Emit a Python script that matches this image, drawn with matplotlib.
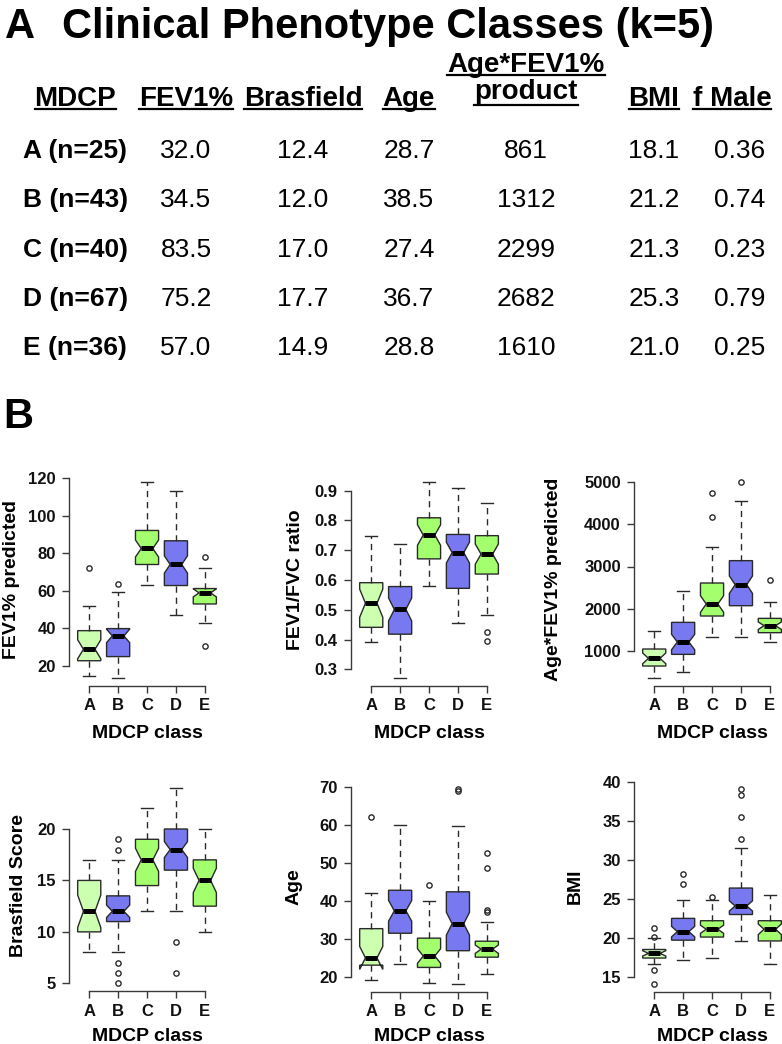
import numpy as np
import matplotlib
matplotlib.use("Agg")
import matplotlib.pyplot as plt
from matplotlib.lines import Line2D

plt.rcParams['font.family'] = ['Liberation Sans', 'DejaVu Sans']

W, H = 782, 1044

# ---------------- data: panel A table ----------------
classes = ["A", "B", "C", "D", "E"]
n_class = [25, 43, 40, 67, 36]
row_labels = ["A (n=25)", "B (n=43)", "C (n=40)", "D (n=67)", "E (n=36)"]
col_fev1 = [32.0, 34.5, 83.5, 75.2, 57.0]
col_brasfield = [12.4, 12.0, 17.0, 17.7, 14.9]
col_age = [28.7, 38.5, 27.4, 36.7, 28.8]
col_age_fev1 = [861, 1312, 2299, 2682, 1610]
col_bmi = [18.1, 21.2, 21.3, 25.3, 21.0]
col_fmale = [0.36, 0.74, 0.23, 0.79, 0.25]

# ---------------- data: panel B boxplots ----------------
fev1_whislo = [14.7, 13.6, 63.0, 47.2, 42.9]
fev1_q1 = [22.8, 25.0, 74.0, 62.8, 53.0]
fev1_med = [28.9, 36.0, 82.5, 74.0, 58.9]
fev1_q3 = [38.8, 39.9, 92.1, 86.6, 61.2]
fev1_whishi = [52.0, 59.6, 118.0, 113.0, 72.0]
fev1_fliers = [[72.0], [63.7], [], [], [77.9, 30.8]]

ratio_whislo = [0.393, 0.271, 0.581, 0.454, 0.482]
ratio_q1 = [0.441, 0.418, 0.671, 0.572, 0.620]
ratio_med = [0.522, 0.501, 0.751, 0.692, 0.687]
ratio_q3 = [0.591, 0.578, 0.809, 0.753, 0.749]
ratio_whishi = [0.748, 0.720, 0.929, 0.908, 0.860]
ratio_fliers = [[], [], [], [], [0.424, 0.395]]

prod_whislo = [358, 485, 1317, 1317, 1198]
prod_q1 = [636, 913, 1824, 2069, 1428]
prod_med = [818, 1206, 2109, 2568, 1594]
prod_q3 = [1040, 1673, 2608, 3139, 1768]
prod_whishi = [1475, 2426, 3456, 4564, 2149]
prod_fliers = [[], [], [4755, 4168], [5016], [2679]]

bras_whislo = [8, 8, 12, 12, 10]
bras_q1 = [10, 11, 14.5, 16, 12.5]
bras_med = [12, 12, 17, 18, 15]
bras_q3 = [15, 13.5, 19, 20, 17]
bras_whishi = [17, 17, 22, 24, 20]
bras_fliers = [[], [19, 18, 7, 6, 5], [], [9, 6], []]

age_whislo = [19.3, 23.5, 18.6, 18.2, 20.8]
age_q1 = [23.2, 31.6, 22.6, 27.0, 25.3]
age_med = [25.1, 37.5, 25.6, 34.1, 27.4]
age_q3 = [32.8, 42.9, 30.3, 42.5, 29.5]
age_whishi = [42.1, 60.0, 40.2, 59.7, 34.5]
age_fliers = [[62.2], [], [44.4], [69.6, 68.9], [52.6, 48.7, 37.6, 37.3]]

bmi_whislo = [16.6, 17.1, 17.4, 19.6, 16.6]
bmi_q1 = [17.4, 19.7, 20.1, 23.0, 19.6]
bmi_med = [18.0, 20.8, 21.1, 24.1, 21.1]
bmi_q3 = [18.5, 22.5, 22.2, 26.4, 22.2]
bmi_whishi = [20.0, 24.9, 24.9, 31.5, 25.5]
bmi_fliers = [[21.3, 20.1, 15.9, 14.1], [28.2, 26.9], [25.3], [39.2, 38.4, 35.5, 32.7], []]

box_colors = ["#ccffb0", "#7878f0", "#a3ff6e", "#7878f0", "#a3ff6e"]


def fx(px):
    return px / W


def fy(py):
    return 1 - py / H


fig = plt.figure(figsize=(W / 100, H / 100), dpi=100)

# ---------------- panel A ----------------
fig.text(fx(5), fy(38), "A", fontsize=30, fontweight="bold", va="baseline")
fig.text(fx(62), fy(38), "Clinical Phenotype Classes (k=5)", fontsize=30,
         fontweight="bold", va="baseline")

# header text, x centre, baseline, underline offset
headers = [("MDCP", 75.5, 106, 3), ("FEV1%", 186, 106, 3), ("Brasfield", 303, 106, 3),
           ("Age", 409, 106, 3), ("Age*FEV1%", 526, 72, 3), ("product", 526, 99, 6),
           ("BMI", 654, 106, 3), ("f Male", 732, 106, 3)]
header_texts = []
for lab, x, y, off in headers:
    t = fig.text(fx(x), fy(y), lab, fontsize=20, fontweight="bold",
                 ha="center", va="baseline")
    header_texts.append((t, y + off))

col_x = [186, 303, 409, 526, 654, 740]
for i in range(len(classes)):
    yb = 158 + 49.3 * i
    fig.text(fx(23), fy(yb), row_labels[i], fontsize=19, fontweight="bold", va="baseline")
    vals = [f"{col_fev1[i]:.1f}", f"{col_brasfield[i]:.1f}", f"{col_age[i]:.1f}",
            f"{col_age_fev1[i]:d}", f"{col_bmi[i]:.1f}", f"{col_fmale[i]:.2f}"]
    for x, v in zip(col_x, vals):
        fig.text(fx(x), fy(yb), v, fontsize=19, ha="center", va="baseline")

fig.text(fx(3), fy(428), "B", fontsize=30, fontweight="bold", va="baseline")

# ---------------- panel B ----------------
panels = [
    (fev1_whislo, fev1_q1, fev1_med, fev1_q3, fev1_whishi, fev1_fliers,
     "FEV1% predicted", 0, 0, [20, 40, 60, 80, 100, 120], (666, 478), 12, "{:.0f}"),
    (ratio_whislo, ratio_q1, ratio_med, ratio_q3, ratio_whishi, ratio_fliers,
     "FEV1/FVC ratio", 1, 0, [0.3, 0.4, 0.5, 0.6, 0.7, 0.8, 0.9], (669.3, 490.7), 295, "{:.1f}"),
    (prod_whislo, prod_q1, prod_med, prod_q3, prod_whishi, prod_fliers,
     "Age*FEV1% predicted", 2, 0, [1000, 2000, 3000, 4000, 5000], (650.7, 482.3), 554, "{:.0f}"),
    (bras_whislo, bras_q1, bras_med, bras_q3, bras_whishi, bras_fliers,
     "Brasfield Score", 0, 1, [5, 10, 15, 20], (983.3, 829), 19, "{:.0f}"),
    (age_whislo, age_q1, age_med, age_q3, age_whishi, age_fliers,
     "Age", 1, 1, [20, 30, 40, 50, 60, 70], (977.3, 787.3), 294, "{:.0f}"),
    (bmi_whislo, bmi_q1, bmi_med, bmi_q3, bmi_whishi, bmi_fliers,
     "BMI", 2, 1, [15, 20, 25, 30, 35, 40], (976.7, 782.3), 575, "{:.0f}"),
]

col_left = [69, 351, 634]
unit = 28.9
xlab_base = [738, 1041]
axis_col = "#3a3a3a"

for (wlo, q1, med, q3, whi, fl, ylab, c, r, ticks, tpx, ylab_x, fmt) in panels:
    stats = []
    for k in range(5):
        iqr = q3[k] - q1[k]
        half = 1.58 * iqr / np.sqrt(n_class[k])
        stats.append(dict(whislo=wlo[k], q1=q1[k], med=med[k], q3=q3[k], whishi=whi[k],
                          fliers=fl[k], cilo=med[k] - half, cihi=med[k] + half))
    allv = wlo + whi + [v for f in fl for v in f]
    lo, hi = min(allv), max(allv)
    ext = 0.04 * (hi - lo)
    ylo, yhi = lo - ext, hi + ext
    s = (tpx[0] - tpx[1]) / (ticks[-1] - ticks[0])
    bottom_px = tpx[0] + (ticks[0] - ylo) * s
    top_px = tpx[1] - (yhi - ticks[-1]) * s
    left_px = col_left[c]
    width_px = 5.4 * unit
    ax = fig.add_axes([fx(left_px), fy(bottom_px), width_px / W, (bottom_px - top_px) / H])
    bp = ax.bxp(stats, positions=range(1, 6), widths=0.8, shownotches=True,
                patch_artist=True,
                boxprops=dict(edgecolor="#2a2a2a", linewidth=1.0),
                whiskerprops=dict(color="#2a2a2a", linewidth=1.0, linestyle=(0, (4.5, 3.5))),
                capprops=dict(color="#2a2a2a", linewidth=1.0),
                medianprops=dict(color="black", linewidth=3.6, solid_capstyle="butt"),
                flierprops=dict(marker="o", markerfacecolor="none", markeredgecolor="#2a2a2a",
                                markersize=3.8, markeredgewidth=1.0, linestyle="none"))
    for patch, col in zip(bp["boxes"], box_colors):
        patch.set_facecolor(col)
    ax.set_xlim(0.3, 5.7)
    ax.set_ylim(ylo, yhi)
    ax.set_facecolor("none")
    for sp in ["top", "right"]:
        ax.spines[sp].set_visible(False)
    ax.spines["left"].set_bounds(ticks[0], ticks[-1])
    ax.spines["bottom"].set_bounds(1, 5)
    for sp in ["left", "bottom"]:
        ax.spines[sp].set_color(axis_col)
        ax.spines[sp].set_linewidth(1.0)
    ax.set_xticks(range(1, 6))
    ax.set_xticklabels(classes, fontsize=12, fontweight="bold", color="#111111")
    ax.set_yticks(ticks)
    ax.set_yticklabels([fmt.format(t) for t in ticks], fontsize=12,
                       fontweight="bold", color="#111111")
    ax.tick_params(axis="both", direction="out", length=5, width=1.0, color=axis_col)
    ax.tick_params(axis="x", pad=4)
    ax.tick_params(axis="y", pad=4.5)
    fig.text(fx(ylab_x), fy((bottom_px + top_px) / 2), ylab, rotation=90, fontsize=14,
             fontweight="bold", ha="center", va="center")
    fig.text(fx(left_px + width_px / 2), fy(xlab_base[r]), "MDCP class", fontsize=14,
             fontweight="bold", ha="center", va="baseline")

# underline the table headers
fig.canvas.draw()
for t, uy in header_texts:
    bb = t.get_window_extent()
    fig.add_artist(Line2D([bb.x0 / W, bb.x1 / W], [fy(uy), fy(uy)],
                          transform=fig.transFigure, color="black", linewidth=1.6))

fig.savefig("out.png", dpi=100)
